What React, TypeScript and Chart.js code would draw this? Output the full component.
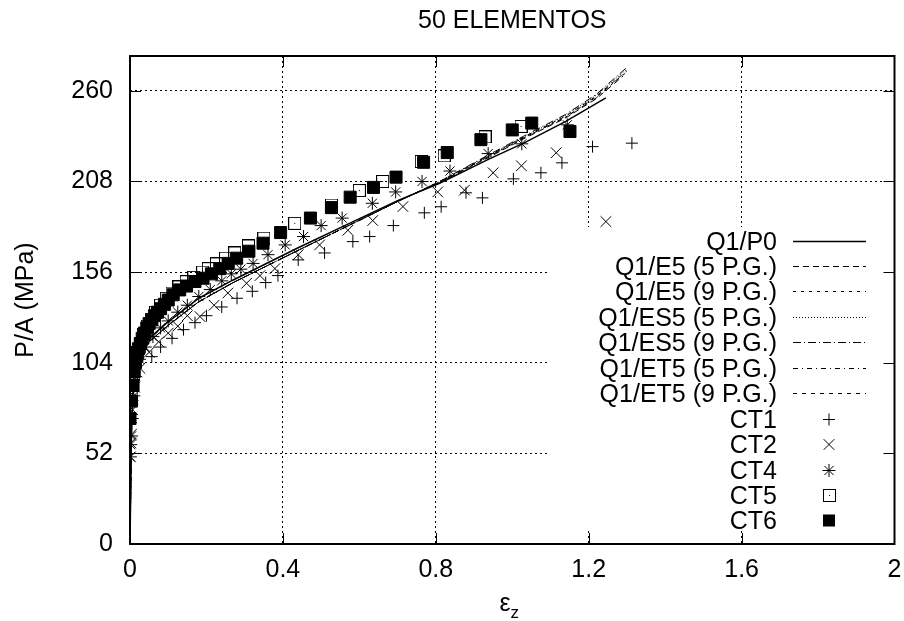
import React, { useEffect, useRef } from "react";
import { Chart, registerables } from "chart.js";

Chart.register(...registerables);

const FONT = "'Liberation Sans', Arial, Helvetica, sans-serif";

const titleText = "50 ELEMENTOS";
const yAxisTitle = "P/A (MPa)";
const xAxisMain = "ε";
const xAxisSub = "z";
const xTicks = [0, 0.4, 0.8, 1.2, 1.6, 2];
const yTicks = [0, 52, 104, 156, 208, 260];

// Finite element curves
const p0Strain = [0, 0.004, 0.01, 0.02, 0.05, 0.1, 0.18, 0.27, 0.44, 0.57, 0.7, 0.81, 0.94, 1.03, 1.14, 1.245];
const p0Stress = [0, 65, 100, 108, 118, 127.5, 141, 151.5, 170, 183.5, 197, 207, 221, 230, 242.5, 256];

const e5g5Strain = [0, 0.004, 0.01, 0.02, 0.05, 0.1, 0.18, 0.27, 0.44, 0.57, 0.7, 0.81, 0.94, 1.03, 1.14, 1.22, 1.29];
const e5g5Stress = [0, 64, 99, 106, 116, 125.5, 139, 150, 168.5, 182.5, 196.5, 207.5, 222, 232.5, 244.5, 255.5, 268.5];

const e5g9Strain = [0, 0.004, 0.01, 0.02, 0.05, 0.1, 0.18, 0.27, 0.44, 0.57, 0.7, 0.81, 0.94, 1.03, 1.14, 1.22, 1.295];
const e5g9Stress = [0, 64, 99, 106, 116, 125.5, 139, 150, 168.5, 182.5, 196.5, 207.5, 222.5, 233, 245, 256.5, 270];

const es5g5Strain = [0, 0.004, 0.01, 0.02, 0.05, 0.1, 0.18, 0.27, 0.44, 0.57, 0.7, 0.81, 0.94, 1.03, 1.14, 1.22, 1.3];
const es5g5Stress = [0, 64, 99, 106, 116, 125.5, 139, 150, 168.5, 182.5, 196.5, 208, 223, 233.5, 246, 257.5, 272.5];

const es5g9Strain = [0, 0.004, 0.01, 0.02, 0.05, 0.1, 0.18, 0.27, 0.44, 0.57, 0.7, 0.81, 0.94, 1.03, 1.14, 1.22, 1.3];
const es5g9Stress = [0, 64, 99, 106, 116, 125.5, 139, 150, 168.5, 182.5, 196.5, 208, 223.5, 234, 246.5, 258, 273.5];

const et5g5Strain = [0, 0.004, 0.01, 0.02, 0.05, 0.1, 0.18, 0.27, 0.44, 0.57, 0.7, 0.81, 0.94, 1.03, 1.14, 1.22, 1.29];
const et5g5Stress = [0, 64, 99, 106, 116, 125.5, 139, 150, 168.5, 182.5, 196.5, 207.5, 222.5, 233, 245, 256, 269.5];

const et5g9Strain = [0, 0.004, 0.01, 0.02, 0.05, 0.1, 0.18, 0.27, 0.44, 0.57, 0.7, 0.81, 0.94, 1.03, 1.14, 1.22, 1.3];
const et5g9Stress = [0, 64, 99, 106, 116, 125.5, 139, 150, 168.5, 182.5, 196.5, 208, 223, 233.5, 245.5, 257, 271.5];

// Experimental data
const ct1Strain = [0.057, 0.08, 0.11, 0.14, 0.17, 0.2, 0.24, 0.28, 0.32, 0.355, 0.387, 0.44, 0.509, 0.583, 0.627, 0.689, 0.77, 0.814, 0.879, 0.922, 1.003, 1.075, 1.13, 1.21, 1.313];
const ct1Stress = [107.5, 113, 118, 123, 127, 131, 136, 141, 145, 150, 154, 163, 167, 173.5, 176.4, 182.7, 190, 193.5, 201.5, 198.6, 209.5, 213, 218.7, 228, 230];

const ct2Strain = [0.001, 0.002, 0.004, 0.007, 0.012, 0.026, 0.05, 0.075, 0.1, 0.125, 0.15, 0.183, 0.22, 0.256, 0.305, 0.34, 0.379, 0.44, 0.496, 0.57, 0.635, 0.714, 0.805, 0.875, 0.95, 1.024, 1.115, 1.245];
const ct2Stress = [50, 58, 63, 77, 90, 100.8, 110, 116, 121, 125, 131, 130.5, 137, 144, 149.6, 154, 158, 166, 171.6, 180, 185.6, 193.6, 202, 203, 213, 217, 224.5, 185];

const ct4Strain = [0.001, 0.002, 0.004, 0.006, 0.01, 0.015, 0.025, 0.04, 0.06, 0.08, 0.1, 0.125, 0.15, 0.18, 0.21, 0.24, 0.265, 0.29, 0.322, 0.361, 0.406, 0.454, 0.5, 0.555, 0.634, 0.695, 0.764, 0.837, 0.937, 1.025, 1.144];
const ct4Stress = [50, 57, 62, 72, 85, 96, 106, 113, 119, 124, 128, 133, 137, 142, 146, 151, 155, 157.7, 161, 166, 171.6, 176.4, 182.7, 187, 195.5, 202, 208, 214, 224, 229.6, 240.5];

const ct5Strain = [0.005, 0.01, 0.015, 0.02, 0.027, 0.035, 0.045, 0.055, 0.067, 0.08, 0.095, 0.11, 0.128, 0.147, 0.167, 0.19, 0.205, 0.226, 0.25, 0.274, 0.31, 0.35, 0.431, 0.527, 0.6, 0.661, 0.762, 0.822, 0.929, 1.023];
const ct5Stress = [85, 98, 105, 110, 115, 120, 125, 129, 133, 137, 141, 144, 147.5, 150.5, 153, 156, 158, 160.7, 164, 167, 171, 175.5, 184, 194.5, 202.8, 208, 219.5, 222.7, 233.6, 239.6];

const ct6Strain = [0, 0.004, 0.008, 0.011, 0.014, 0.018, 0.022, 0.027, 0.032, 0.038, 0.044, 0.05, 0.057, 0.064, 0.072, 0.08, 0.09, 0.1, 0.113, 0.13, 0.148, 0.17, 0.191, 0.213, 0.235, 0.257, 0.279, 0.311, 0.348, 0.394, 0.472, 0.527, 0.576, 0.637, 0.696, 0.768, 0.83, 0.918, 1.0, 1.051, 1.151];
const ct6Stress = [72, 82, 91, 99, 104, 108, 112, 115, 118, 121, 124, 126.5, 128.6, 131, 133, 135, 137.5, 140, 143, 145.8, 148, 150.6, 152.5, 155, 158, 161, 164, 168, 172.6, 178.7, 187, 193, 199, 204.6, 210.5, 219, 224.6, 232, 237.6, 241.5, 236.7];

const toPoints = (xs: number[], ys: number[]) => xs.map((x, i) => ({ x, y: ys[i] }));

// layout constants
const KEY_LEFT = 550;
const KEY_TOP = 227;
const KEY_BOTTOM = 531;
const KEY_TEXT_RIGHT = 777;
const KEY_SAMPLE_L = 793;
const KEY_SAMPLE_R = 866;
const KEY_FIRST_Y = 240.5;
const KEY_STEP = 25.45;
const TICK_LEN = 11;

function drawMarker(ctx: CanvasRenderingContext2D, ds: any, x: number, y: number) {
  const style = ds.pointStyle;
  const r = ds.pointRadius;
  ctx.save();
  ctx.strokeStyle = "#000";
  ctx.fillStyle = "#000";
  ctx.lineWidth = ds.pointBorderWidth || 1;
  if (style instanceof HTMLCanvasElement) {
    ctx.drawImage(style, Math.round(x - style.width / 2), Math.round(y - style.height / 2));
  } else if (style === "rect") {
    const s = Math.SQRT1_2 * r;
    ctx.fillRect(x - s, y - s, 2 * s, 2 * s);
  } else {
    ctx.beginPath();
    if (style === "cross" || style === "star") {
      ctx.moveTo(x - r, y); ctx.lineTo(x + r, y);
      ctx.moveTo(x, y - r); ctx.lineTo(x, y + r);
    }
    if (style === "crossRot" || style === "star") {
      const d = r * Math.SQRT1_2;
      ctx.moveTo(x - d, y - d); ctx.lineTo(x + d, y + d);
      ctx.moveTo(x - d, y + d); ctx.lineTo(x + d, y - d);
    }
    ctx.stroke();
  }
  ctx.restore();
}

const gnuplotPlugin = {
  id: "gnuplotDecor",
  beforeDatasetsDraw(chart: any) {
    const { ctx, chartArea: a } = chart;
    ctx.save();
    ctx.fillStyle = "#fff";
    ctx.fillRect(KEY_LEFT, KEY_TOP, a.right - 1 - KEY_LEFT, KEY_BOTTOM - KEY_TOP);
    ctx.restore();
  },
  afterDatasetsDraw(chart: any) {
    const { ctx, chartArea: a } = chart;
    const xs = chart.scales.x;
    const ys = chart.scales.y;
    ctx.save();
    // ticks (inward, mirrored)
    ctx.strokeStyle = "#000";
    ctx.lineWidth = 1;
    ctx.beginPath();
    xTicks.forEach((v) => {
      if (v === xTicks[0] || v === xTicks[xTicks.length - 1]) return;
      const px = Math.round(xs.getPixelForValue(v)) + 0.5;
      ctx.moveTo(px, a.bottom); ctx.lineTo(px, a.bottom - TICK_LEN);
      ctx.moveTo(px, a.top); ctx.lineTo(px, a.top + TICK_LEN);
    });
    yTicks.forEach((v) => {
      if (v === 0) return;
      const py = Math.round(ys.getPixelForValue(v)) + 0.5;
      ctx.moveTo(a.left, py); ctx.lineTo(a.left + TICK_LEN, py);
      ctx.moveTo(a.right, py); ctx.lineTo(a.right - TICK_LEN, py);
    });
    ctx.stroke();
    // border
    ctx.lineWidth = 2;
    ctx.strokeRect(a.left, a.top, a.right - a.left, a.bottom - a.top);

    // legend
    ctx.font = `25px ${FONT}`;
    ctx.fillStyle = "#000";
    ctx.textAlign = "right";
    ctx.textBaseline = "alphabetic";
    chart.data.datasets.forEach((ds: any, i: number) => {
      const cy = KEY_FIRST_Y + i * KEY_STEP;
      ctx.fillText(ds.label, KEY_TEXT_RIGHT, cy + 9);
      if (ds.showLine) {
        ctx.save();
        ctx.lineWidth = ds.borderWidth;
        ctx.setLineDash(ds.borderDash || []);
        ctx.beginPath();
        ctx.moveTo(KEY_SAMPLE_L, Math.round(cy) + 0.5);
        ctx.lineTo(KEY_SAMPLE_R, Math.round(cy) + 0.5);
        ctx.stroke();
        ctx.restore();
      } else {
        drawMarker(ctx, ds, (KEY_SAMPLE_L + KEY_SAMPLE_R) / 2 - 0.5, Math.round(cy) + 0.5);
      }
    });

    // title
    ctx.textAlign = "center";
    ctx.font = `25px ${FONT}`;
    ctx.fillText(titleText, (a.left + a.right) / 2, 28);

    // x axis title with subscript
    const cx = (a.left + a.right) / 2 - 3;
    ctx.font = `25px ${FONT}`;
    const w1 = ctx.measureText(xAxisMain).width;
    ctx.font = `17px ${FONT}`;
    const w2 = ctx.measureText(xAxisSub).width;
    const start = cx - (w1 + w2) / 2;
    ctx.textAlign = "left";
    ctx.font = `25px ${FONT}`;
    ctx.fillText(xAxisMain, start, 611);
    ctx.font = `17px ${FONT}`;
    ctx.fillText(xAxisSub, start + w1, 618);
    ctx.restore();
  },
};

export default function App() {
  const ref = useRef<HTMLCanvasElement>(null);
  useEffect(() => {
    document.body.style.margin = "0";
    const canvas = ref.current!;

    const ct5Style = document.createElement("canvas");
    ct5Style.width = 13;
    ct5Style.height = 13;
    const c5 = ct5Style.getContext("2d")!;
    c5.strokeStyle = "#000";
    c5.lineWidth = 1;
    c5.strokeRect(0.5, 0.5, 12, 12);
    c5.fillStyle = "#000";
    c5.fillRect(6, 6, 1, 1);

    const lineDs = (label: string, xs: number[], ys: number[], dash: number[], width: number) => ({
      label,
      data: toPoints(xs, ys),
      showLine: true,
      borderColor: "#000",
      borderWidth: width,
      borderDash: dash,
      pointRadius: 0,
      fill: false,
      tension: 0,
    });
    const pointDs = (label: string, xs: number[], ys: number[], style: any, radius: number, filled: boolean) => ({
      label,
      data: toPoints(xs, ys),
      showLine: false,
      pointStyle: style,
      pointRadius: radius,
      pointBorderWidth: 1,
      pointBorderColor: "#000",
      pointBackgroundColor: filled ? "#000" : "rgba(0,0,0,0)",
      borderColor: "#000",
      backgroundColor: filled ? "#000" : "rgba(0,0,0,0)",
    });

    const datasets: any[] = [
      lineDs("Q1/P0", p0Strain, p0Stress, [], 1.5),
      lineDs("Q1/E5 (5 P.G.)", e5g5Strain, e5g5Stress, [6, 4], 1),
      lineDs("Q1/E5 (9 P.G.)", e5g9Strain, e5g9Stress, [3, 5], 1),
      lineDs("Q1/ES5 (5 P.G.)", es5g5Strain, es5g5Stress, [1, 2], 1),
      lineDs("Q1/ES5 (9 P.G.)", es5g9Strain, es5g9Stress, [8, 3, 1, 3], 1),
      lineDs("Q1/ET5 (5 P.G.)", et5g5Strain, et5g5Stress, [5, 4, 1, 4], 1),
      lineDs("Q1/ET5 (9 P.G.)", et5g9Strain, et5g9Stress, [4, 5], 1),
      pointDs("CT1", ct1Strain, ct1Stress, "cross", 6, false),
      pointDs("CT2", ct2Strain, ct2Stress, "crossRot", 7.5, false),
      pointDs("CT4", ct4Strain, ct4Stress, "star", 6.5, false),
      pointDs("CT5", ct5Strain, ct5Stress, ct5Style, 6.5, false),
      pointDs("CT6", ct6Strain, ct6Stress, "rect", 8.5, true),
    ];
    datasets.forEach((d, i) => (d.order = datasets.length - i));

    const gridColor = (ctxArg: any, edges: number[]) =>
      edges.includes(ctxArg.tick?.value) ? "rgba(0,0,0,0)" : "#000";

    const chart = new Chart(canvas, {
      type: "scatter",
      data: { datasets },
      plugins: [gnuplotPlugin],
      options: {
        animation: false,
        responsive: false,
        events: [],
        layout: { padding: { top: 56, right: 8, left: 0, bottom: 0 } },
        plugins: { legend: { display: false }, title: { display: false }, tooltip: { enabled: false } },
        scales: {
          x: {
            type: "linear",
            min: 0,
            max: 2,
            afterBuildTicks: (s: any) => { s.ticks = xTicks.map((v) => ({ value: v })); },
            afterFit: (s: any) => { s.height = 77; s.paddingLeft = 0; s.paddingRight = 0; },
            ticks: {
              color: "#000",
              font: { family: FONT, size: 25 },
              padding: 11,
              maxRotation: 0,
              autoSkip: false,
              callback: (v: any) => String(v),
            },
            grid: {
              drawTicks: false,
              lineWidth: 1,
              color: (c: any) => gridColor(c, [0, 2]),
            },
            border: { display: false, dash: [2, 3] },
          },
          y: {
            type: "linear",
            min: 0,
            max: 280,
            afterBuildTicks: (s: any) => { s.ticks = yTicks.map((v) => ({ value: v })); },
            afterFit: (s: any) => { s.width = 130; s.paddingTop = 0; s.paddingBottom = 0; },
            ticks: {
              color: "#000",
              font: { family: FONT, size: 25 },
              padding: 17,
              autoSkip: false,
              callback: (v: any) => String(v),
            },
            grid: {
              drawTicks: false,
              lineWidth: 1,
              color: (c: any) => gridColor(c, [0]),
            },
            border: { display: false, dash: [2, 3] },
            title: {
              display: true,
              text: yAxisTitle,
              color: "#000",
              font: { family: FONT, size: 25 },
              padding: { top: 11, bottom: 0 },
            },
          },
        },
      } as any,
    });
    return () => chart.destroy();
  }, []);

  return (
    <div style={{ width: 904, height: 621 }}>
      <canvas ref={ref} width={904} height={621} style={{ display: "block" }} />
    </div>
  );
}
